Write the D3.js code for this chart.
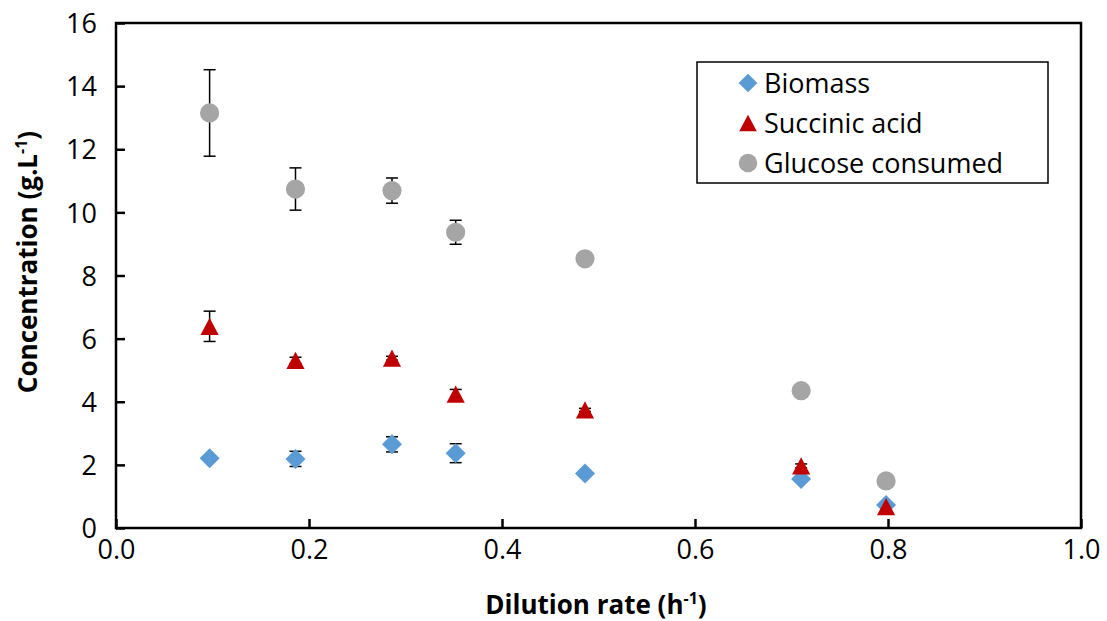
<!DOCTYPE html>
<html>
<head>
<meta charset="utf-8">
<script src="https://cdn.jsdelivr.net/npm/d3@7"></script>
<style>
  body { margin: 0; background: #fff; }
  svg { display: block; font-family: "Open Sans", "Noto Sans", sans-serif; }
  .tick text { font-size: 27px; fill: #000; }
  .axis-title { font-size: 26px; font-weight: bold; }
  .legend text { font-size: 27px; }
</style>
</head>
<body>
<svg id="chart" width="1107" height="621"></svg>
<script>
// dilution rate (h-1)
var dilution = [0.097, 0.186, 0.286, 0.352, 0.486, 0.71, 0.798];

var biomass = [2.21, 2.19, 2.65, 2.37, 1.73, 1.55, 0.73];
var biomassErr = [0, 0.24, 0.24, 0.3, 0, 0, 0];

var succinic = [6.39, 5.31, 5.38, 4.24, 3.74, 1.97, 0.68];
var succinicErr = [0.48, 0.1, 0.06, 0.15, 0.05, 0.06, 0];

var glucose = [13.15, 10.74, 10.69, 9.37, 8.53, 4.35, 1.49];
var glucoseErr = [1.37, 0.67, 0.4, 0.38, 0, 0, 0];

var xTicks = [0, 0.2, 0.4, 0.6, 0.8, 1.0];
var yTicks = [0, 2, 4, 6, 8, 10, 12, 14, 16];

var svg = d3.select('#chart'),
    plotLeft = 116, plotRight = 1081, plotTop = 23, plotBottom = 528;

var x = d3.scaleLinear().domain([0, 1]).range([plotLeft, plotRight]);
var y = d3.scaleLinear().domain([0, 16]).range([plotBottom, plotTop]);

// triangle centred on its bounding box, like the spreadsheet marker
var triangleBox = {
  draw: function (ctx, size) {
    var w = Math.sqrt(size * 2.2), h = w * 0.95;
    ctx.moveTo(0, -h / 2);
    ctx.lineTo(w / 2, h / 2);
    ctx.lineTo(-w / 2, h / 2);
    ctx.closePath();
  }
};

var series = [
  { name: 'Biomass', values: biomass, err: biomassErr, color: '#5B9BD5',
    type: d3.symbolSquare, size: 200, legendSize: 175, rotate: 45 },
  { name: 'Succinic acid', values: succinic, err: succinicErr, color: '#C00000',
    type: triangleBox, size: 150, legendSize: 140, rotate: 0 },
  { name: 'Glucose consumed', values: glucose, err: glucoseErr, color: '#A5A5A5',
    type: d3.symbolCircle, size: 290, legendSize: 270, rotate: 0 }
];

// axes, ticks pointing inward
var xAxis = svg.append('g')
  .attr('transform', 'translate(0,' + plotBottom + ')')
  .call(d3.axisBottom(x).tickValues(xTicks).tickSize(-9).tickPadding(17)
    .tickFormat(d3.format('.1f')));
var yAxis = svg.append('g')
  .attr('transform', 'translate(' + plotLeft + ',0)')
  .call(d3.axisLeft(y).tickValues(yTicks).tickSize(-9).tickPadding(19));

[xAxis, yAxis].forEach(function (a) {
  a.attr('font-family', null).attr('font-size', null);
  a.select('.domain').remove();
  a.selectAll('.tick line').attr('stroke', '#000').attr('stroke-width', 2.5);
});
xAxis.selectAll('.tick text').attr('dy', '0.5em');
yAxis.selectAll('.tick text').attr('dy', '0.36em');

// error bars
series.forEach(function (s) {
  var g = svg.append('g').attr('stroke', '#000').attr('stroke-width', 1.5);
  s.values.forEach(function (v, i) {
    if (!s.err[i]) return;
    var cx = x(dilution[i]), y1 = y(v - s.err[i]), y2 = y(v + s.err[i]);
    g.append('line').attr('x1', cx).attr('x2', cx).attr('y1', y1).attr('y2', y2);
    g.append('line').attr('x1', cx - 6).attr('x2', cx + 6).attr('y1', y1).attr('y2', y1);
    g.append('line').attr('x1', cx - 6).attr('x2', cx + 6).attr('y1', y2).attr('y2', y2);
  });
});

// markers
series.forEach(function (s) {
  svg.append('g').selectAll('path')
    .data(s.values)
    .enter().append('path')
    .attr('d', d3.symbol().type(s.type).size(s.size)())
    .attr('fill', s.color)
    .attr('transform', function (d, i) {
      return 'translate(' + x(dilution[i]) + ',' + y(d) + ') rotate(' + s.rotate + ')';
    });
});

// plot frame
svg.append('rect')
  .attr('x', plotLeft).attr('y', plotTop)
  .attr('width', plotRight - plotLeft).attr('height', plotBottom - plotTop)
  .attr('fill', 'none').attr('stroke', '#000').attr('stroke-width', 2.5);

// axis titles
var xt = svg.append('text').attr('class', 'axis-title')
  .attr('x', 596).attr('y', 614).attr('text-anchor', 'middle');
xt.append('tspan').text('Dilution rate (h');
xt.append('tspan').attr('font-size', '16px').attr('dy', '-10').text('-1');
xt.append('tspan').attr('dy', '10').text(')');

var yt = svg.append('text').attr('class', 'axis-title')
  .attr('transform', 'translate(37,' + 262 + ') rotate(-90)')
  .attr('text-anchor', 'middle');
yt.append('tspan').text('Concentration (g.L');
yt.append('tspan').attr('font-size', '16px').attr('dy', '-10').text('-1');
yt.append('tspan').attr('dy', '10').text(')');

// legend
var legend = svg.append('g').attr('class', 'legend');
legend.append('rect')
  .attr('x', 697).attr('y', 62).attr('width', 351).attr('height', 121)
  .attr('fill', '#fff').attr('stroke', '#000').attr('stroke-width', 1.5);
var item = legend.selectAll('g.item')
  .data(series)
  .enter().append('g').attr('class', 'item')
  .attr('transform', function (d, i) { return 'translate(748,' + (83 + i * 40) + ')'; });
item.append('path')
  .attr('d', function (d) { return d3.symbol().type(d.type).size(d.legendSize)(); })
  .attr('fill', function (d) { return d.color; })
  .attr('transform', function (d) { return 'rotate(' + d.rotate + ')'; });
item.append('text')
  .attr('x', 16).attr('dy', '0.36em')
  .text(function (d) { return d.name; });
</script>
</body>
</html>
